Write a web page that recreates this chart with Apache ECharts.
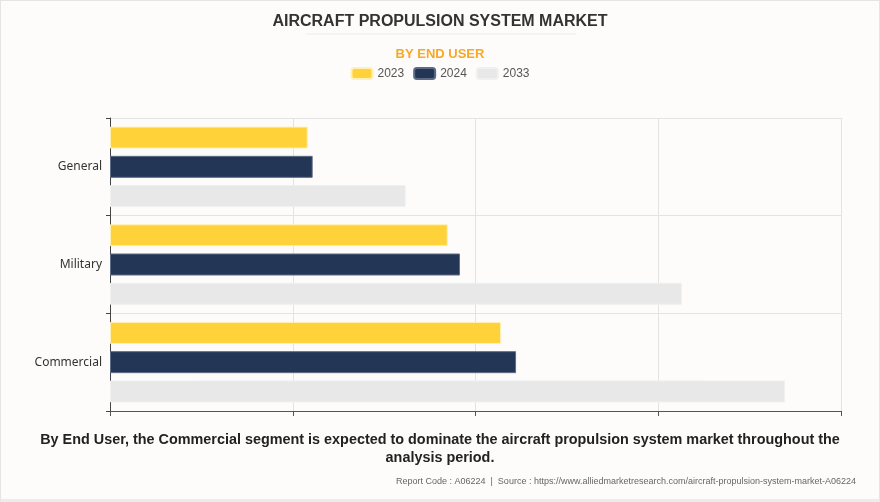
<!DOCTYPE html>
<html>
<head>
<meta charset="utf-8">
<script src="https://cdn.jsdelivr.net/npm/echarts@6/dist/echarts.min.js"></script>
<style>
html,body{margin:0;padding:0;background:#fdfcfb;}
#c{width:878px;height:498px;border:1px solid #e4e4e4;border-bottom:3px solid #ececec;background:#fdfcfb;}
</style>
</head>
<body>
<div id="c"></div>
<script>
var categories = ['Commercial', 'Military', 'General'];
var seriesNames = ['2023', '2024', '2033'];
var values2023 = [2.14, 1.848, 1.082];
var values2024 = [2.222, 1.915, 1.109];
var values2033 = [3.694, 3.13, 1.618];
var colors = ['#ffd23a', '#243656', '#e8e8e8'];
var borderColors = ['#fff0b8', '#5d6b86', '#f0f0f0'];

var chart = echarts.init(document.getElementById('c'));
var dataSets = [values2023, values2024, values2033];
var series = seriesNames.map(function (n, i) {
  return {
    name: n, type: 'bar', data: dataSets[i],
    barWidth: 22, barGap: '33%', barCategoryGap: '20%',
    itemStyle: { color: colors[i], borderColor: borderColors[i], borderWidth: 1 }
  };
});
chart.setOption({
  backgroundColor: '#fdfcfb',
  animation: false,
  title: [
    { text: 'AIRCRAFT PROPULSION SYSTEM MARKET', left: 'center', top: 8,
      textStyle: { fontFamily: 'Liberation Sans, Arial', fontSize: 16, fontWeight: 'bold', color: '#333' } },
    { text: 'BY END USER', left: 'center', top: 42,
      textStyle: { fontFamily: 'Liberation Sans, Arial', fontSize: 13, fontWeight: 'bold', color: '#f9a825' } },
    { text: 'Report Code : A06224  |  Source : https://www.alliedmarketresearch.com/aircraft-propulsion-system-market-A06224',
      right: 18, top: 471,
      textStyle: { fontFamily: 'Liberation Sans, Arial', fontSize: 9, fontWeight: 'normal', color: '#666' } }
  ],
  graphic: [
    { type: 'line', shape: { x1: 305, y1: 33, x2: 575, y2: 33 }, style: { stroke: '#ececec', lineWidth: 1 } },
    { type: 'text', x: 439, y: 430,
      style: { text: 'By End User, the Commercial segment is expected to dominate the aircraft propulsion system market throughout the\nanalysis period.',
        align: 'center', verticalAlign: 'top', lineHeight: 18,
        font: 'bold 14.4px "Liberation Sans", Arial', fill: '#222' } }
  ],
  legend: {
    top: 61, left: 'center', itemWidth: 21, itemHeight: 11, itemGap: 9,
    icon: 'roundRect',
    textStyle: { fontFamily: 'Liberation Sans, Arial', fontSize: 12, color: '#555' },
    data: seriesNames
  },
  grid: { left: 109, right: 38, top: 117, bottom: 88, containLabel: false },
  xAxis: {
    type: 'value', min: 0, max: 4, interval: 1,
    axisLabel: { show: false },
    axisLine: { show: true, lineStyle: { color: '#555' } },
    axisTick: { show: true, length: 5, lineStyle: { color: '#555' } },
    splitLine: { show: true, lineStyle: { color: '#e3e3e3' } }
  },
  yAxis: {
    type: 'category', data: categories,
    axisLine: { show: true, lineStyle: { color: '#444' } },
    axisTick: { show: true, length: 4, lineStyle: { color: '#444' } },
    axisLabel: { fontFamily: 'Noto Sans, Open Sans', fontSize: 12, color: '#333', margin: 8 },
    splitLine: { show: true, lineStyle: { color: '#e3e3e3' } }
  },
  series: series
});
</script>
</body>
</html>
